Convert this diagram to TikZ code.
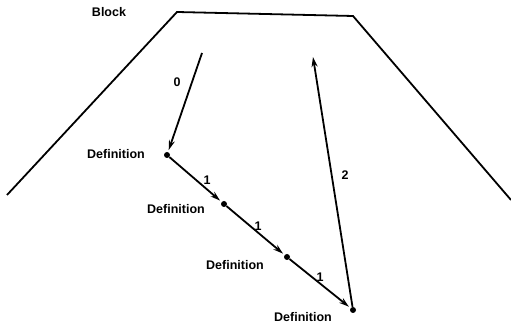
\documentclass[tikz,border=0pt]{standalone}
\usepackage{fontspec}
\setmainfont{Liberation Sans}
\usetikzlibrary{arrows.meta}
\begin{document}
\begin{tikzpicture}[x=1pt,y=1pt,
  lbl/.style={font=\fontsize{12.5}{14}\selectfont\bfseries, inner sep=0pt},
  dot/.style={circle, fill=black, inner sep=0pt, minimum size=6pt},
  edge/.style={line width=1.8pt},
  arr/.style={line width=1.8pt, -{Stealth[length=10pt,width=6pt]}}]
\useasboundingbox (0,0) rectangle (511,328);
% trapezoid block outline
\coordinate (t1) at (7,133);
\coordinate (t2) at (177,316);
\coordinate (t3) at (353,312);
\coordinate (t4) at (511,128);
\draw[edge] (t1) -- (t2) -- (t3) -- (t4);
\node[lbl] (block) at (109,316) {Block};
% definition points
\node[dot] (d1) at (167,173) {};
\node[dot] (d2) at (224,124) {};
\node[dot] (d3) at (287,71) {};
\node[dot] (d4) at (353,18) {};
\node[lbl] (l1) at (116,174) {Definition};
\node[lbl] (l2) at (176,119) {Definition};
\node[lbl] (l3) at (235,63) {Definition};
\node[lbl] (l4) at (303,11) {Definition};
% arrows
\coordinate (s0) at (202,275);
\coordinate (e2) at (313,271);
\draw[arr, shorten >=2pt] (s0) -- (d1);
\draw[arr, shorten >=2pt] (d1) -- (d2);
\draw[arr, shorten >=2pt] (d2) -- (d3);
\draw[arr, shorten >=2pt] (d3) -- (d4);
\draw[arr] (d4) -- (e2);
% labels
\node[lbl] (n0) at (177,246) {0};
\node[lbl] (n1a) at (207,148) {1};
\node[lbl] (n1b) at (258,102) {1};
\node[lbl] (n1c) at (320,51) {1};
\node[lbl] (n2) at (345,153) {2};
\end{tikzpicture}
\end{document}
